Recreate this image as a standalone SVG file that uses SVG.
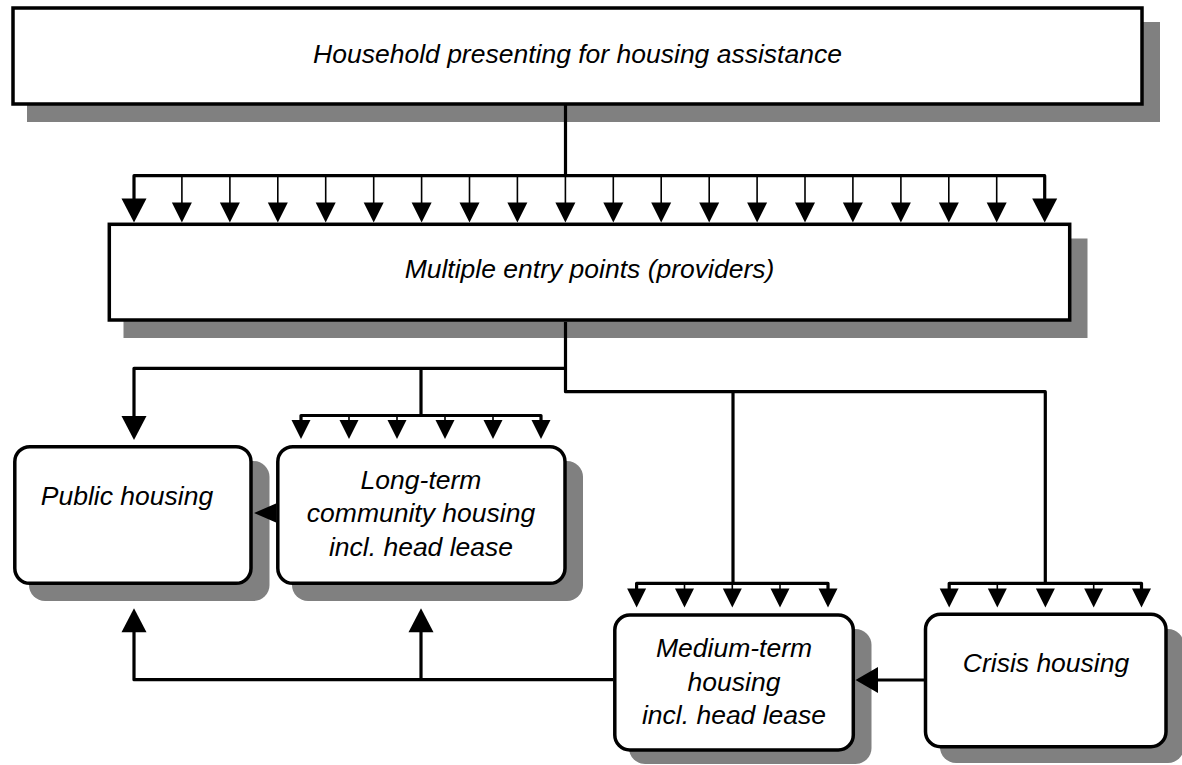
<svg xmlns="http://www.w3.org/2000/svg" xmlns:xlink="http://www.w3.org/1999/xlink" width="1182" height="765" viewBox="0 0 1182 765">
<style>
.box{fill:#fff;stroke:#000;stroke-width:3.5}
.sh{fill:#808080;stroke:none}
.t{font-family:"Liberation Sans",Arial,sans-serif;font-style:italic;font-size:26.5px;fill:#000;text-anchor:middle}
.ln{fill:none;stroke:#000;stroke-width:3.2;stroke-linejoin:round}
.thin{fill:none;stroke:#000;stroke-width:1.6}
.hd{fill:#000;stroke:none}
</style>
<defs>
<path id="hb" d="M-12.5,-24 L12.5,-24 L0,0 Z"/>
<path id="hs" d="M-10,-20 L10,-20 L0,0 Z"/>
<path id="hm" d="M-9.5,-19 L9.5,-19 L0,0 Z"/>
</defs>
<rect width="1182" height="765" fill="#fff"/>

<g id="node-household">
<rect class="sh" x="27" y="22" width="1133" height="100"/>
<rect class="box" x="13" y="8" width="1129" height="96"/>
<text class="t" x="577.5" y="63">Household presenting for housing assistance</text>
</g>

<g id="node-entry">
<rect class="sh" x="123.5" y="238.5" width="964" height="99.5"/>
<rect class="box" x="109.3" y="224.3" width="960.4" height="95.7"/>
<text class="t" x="589.5" y="278">Multiple entry points (providers)</text>
</g>

<g id="node-public">
<rect class="sh" x="29" y="461" width="240.5" height="140" rx="16"/>
<rect class="box" x="14.8" y="446.7" width="236.2" height="136.6" rx="15"/>
<text class="t" x="127" y="505">Public housing</text>
</g>

<g id="node-longterm">
<rect class="sh" x="292" y="461" width="291" height="140" rx="16"/>
<rect class="box" x="277.8" y="446.7" width="287.2" height="136.6" rx="15"/>
<text class="t" x="421" y="488.5">Long-term</text>
<text class="t" x="421" y="522">community housing</text>
<text class="t" x="421" y="555.5">incl. head lease</text>
</g>

<g id="node-medium">
<rect class="sh" x="629" y="629" width="242.5" height="135" rx="16"/>
<rect class="box" x="614.8" y="615" width="238.5" height="135" rx="15"/>
<text class="t" x="734" y="657">Medium-term</text>
<text class="t" x="734" y="690.5">housing</text>
<text class="t" x="734" y="724">incl. head lease</text>
</g>

<g id="node-crisis">
<rect class="sh" x="940" y="629" width="244" height="134" rx="16"/>
<rect class="box" x="925.5" y="614.3" width="240.5" height="132.4" rx="15"/>
<text class="t" x="1046" y="672">Crisis housing</text>
</g>

<g id="connectors">
<!-- top to entry points -->
<path class="ln" d="M565.5,104 V175.7"/>
<path class="ln" d="M134,199 V175.7 H1044.7 V199"/>
<path class="thin" d="M181.9,175.7V204 M229.9,175.7V204 M277.8,175.7V204 M325.7,175.7V204 M373.7,175.7V204 M421.6,175.7V204 M469.5,175.7V204 M517.4,175.7V204 M565.4,175.7V204 M613.3,175.7V204 M661.2,175.7V204 M709.2,175.7V204 M757.1,175.7V204 M805,175.7V204 M852.9,175.7V204 M900.9,175.7V204 M948.8,175.7V204 M996.7,175.7V204"/>
<use href="#hb" x="134" y="222.5"/>
<use href="#hs" x="181.9" y="222.5"/>
<use href="#hs" x="229.9" y="222.5"/>
<use href="#hs" x="277.8" y="222.5"/>
<use href="#hs" x="325.7" y="222.5"/>
<use href="#hs" x="373.7" y="222.5"/>
<use href="#hs" x="421.6" y="222.5"/>
<use href="#hs" x="469.5" y="222.5"/>
<use href="#hs" x="517.4" y="222.5"/>
<use href="#hs" x="565.4" y="222.5"/>
<use href="#hs" x="613.3" y="222.5"/>
<use href="#hs" x="661.2" y="222.5"/>
<use href="#hs" x="709.2" y="222.5"/>
<use href="#hs" x="757.1" y="222.5"/>
<use href="#hs" x="805" y="222.5"/>
<use href="#hs" x="852.9" y="222.5"/>
<use href="#hs" x="900.9" y="222.5"/>
<use href="#hs" x="948.8" y="222.5"/>
<use href="#hs" x="996.7" y="222.5"/>
<use href="#hb" x="1044.7" y="222.5"/>

<!-- entry points down -->
<path class="ln" d="M565.5,322 V391.7 H1045.3 V583.3"/>
<path class="ln" d="M565.5,368.3 H134 V416"/>
<use href="#hb" x="134" y="440"/>
<!-- community bus -->
<path class="ln" d="M421,368.3 V415.5"/>
<path class="ln" d="M301,420 V415.5 H541 V420"/>
<path class="thin" d="M349,415.5V420 M397,415.5V420 M445,415.5V420 M493,415.5V420"/>
<use href="#hm" x="301" y="439"/>
<use href="#hm" x="349" y="439"/>
<use href="#hm" x="397" y="439"/>
<use href="#hm" x="445" y="439"/>
<use href="#hm" x="493" y="439"/>
<use href="#hm" x="541" y="439"/>
<!-- medium bus -->
<path class="ln" d="M733,391.7 V583.3"/>
<path class="ln" d="M636.6,589 V583.3 H828 V589"/>
<path class="thin" d="M684.5,583.3V589 M732.3,583.3V589 M780,583.3V589"/>
<use href="#hm" x="636.6" y="607.5"/>
<use href="#hm" x="684.5" y="607.5"/>
<use href="#hm" x="732.3" y="607.5"/>
<use href="#hm" x="780" y="607.5"/>
<use href="#hm" x="828" y="607.5"/>
<!-- crisis bus -->
<path class="ln" d="M949.2,589 V583.3 H1141.5 V589"/>
<path class="thin" d="M997.3,583.3V589 M1093.7,583.3V589"/>
<use href="#hm" x="949.2" y="607.5"/>
<use href="#hm" x="997.3" y="607.5"/>
<use href="#hm" x="1045.4" y="607.5"/>
<use href="#hm" x="1093.7" y="607.5"/>
<use href="#hm" x="1141.5" y="607.5"/>

<!-- long-term to public -->
<path class="hd" d="M254,513 L276,503.5 L276,522.5 Z"/>
<!-- crisis to medium -->
<path class="ln" d="M924,680 H877"/>
<path class="hd" d="M855.5,680 L878,667 L878,693 Z"/>
<!-- medium to public & long-term -->
<path class="ln" d="M613,679.7 H134 V632"/>
<path class="ln" d="M421,679.7 V632"/>
<use href="#hb" transform="translate(134,608.3) rotate(180)"/>
<use href="#hb" transform="translate(421,608.3) rotate(180)"/>
</g>
</svg>
